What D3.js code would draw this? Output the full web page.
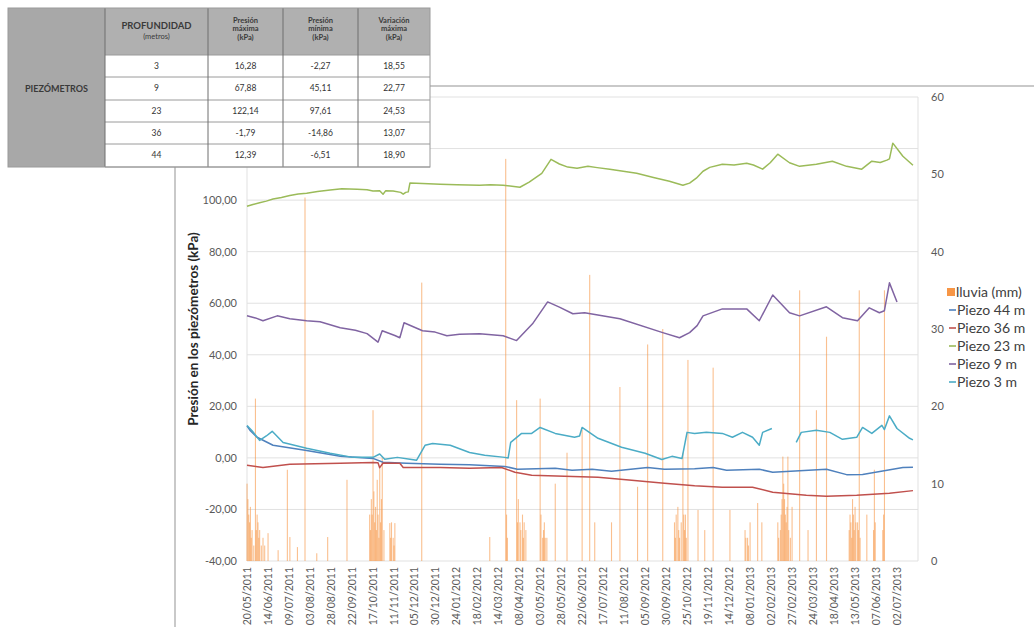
<!DOCTYPE html>
<html>
<head>
<meta charset="utf-8">
<script src="https://cdn.jsdelivr.net/npm/d3@7"></script>
<style>
  body { margin: 0; background: #fff; }
  svg { display: block; font-family: Lato, "Open Sans", "DejaVu Sans", sans-serif; }
</style>
</head>
<body>
<svg id="chart" width="1034" height="627"></svg>
<script>
// ---------- data ----------
const axisDates = ["20/05/2011","14/06/2011","09/07/2011","03/08/2011","28/08/2011","22/09/2011","17/10/2011","11/11/2011","05/12/2011","30/12/2011","24/01/2012","18/02/2012","14/03/2012","08/04/2012","03/05/2012","28/05/2012","22/06/2012","17/07/2012","11/08/2012","05/09/2012","30/09/2012","25/10/2012","19/11/2012","14/12/2012","08/01/2013","02/02/2013","27/02/2013","24/03/2013","18/04/2013","13/05/2013","07/06/2013","02/07/2013"];
const pressureTicks = [-40, -20, 0, 20, 40, 60, 80, 100];
const pressureGrid = [-40, -20, 0, 20, 40, 60, 80, 100, 120, 140];
const rainTicks = [0, 10, 20, 30, 40, 50, 60];

// daily rainfall (mm)
const lluvia = [
  ["2011-05-20",10],["2011-05-21",8],["2011-05-22",6],["2011-05-23",5],["2011-05-24",7],["2011-05-25",3],["2011-05-26",4],
  ["2011-05-28",2],["2011-05-30",21],["2011-05-31",4],["2011-06-01",6],["2011-06-02",5],["2011-06-03",3],["2011-06-04",4],
  ["2011-06-06",2],["2011-06-08",3],["2011-06-10",2],["2011-06-14",3.6],["2011-06-26",1.4],["2011-07-07",11.8],["2011-07-10",3.1],
  ["2011-07-19",1.8],["2011-07-28",47],["2011-08-11",1],["2011-08-24",3.1],["2011-09-16",10.5],["2011-10-13",6],["2011-10-14",4],
  ["2011-10-15",8],["2011-10-16",6],["2011-10-17",19.5],["2011-10-18",9],["2011-10-19",5],["2011-10-20",7],["2011-10-21",4],
  ["2011-10-22",10.5],["2011-10-23",6],["2011-10-24",3],["2011-10-25",12],["2011-10-26",5],["2011-10-27",8],["2011-10-28",13.4],
  ["2011-10-30",4],["2011-11-06",4.9],["2011-11-07",3],["2011-11-08",5],["2011-11-10",3],["2011-11-11",2],["2011-11-12",4.9],
  ["2011-12-14",36],["2012-03-04",3.1],["2012-03-23",52],["2012-03-24",6],["2012-03-25",3],["2012-04-05",20.8],["2012-04-06",5],
  ["2012-04-07",8],["2012-04-09",5],["2012-04-10",4],["2012-04-12",6],["2012-04-13",3],["2012-04-14",5],["2012-04-16",4],
  ["2012-05-03",21],["2012-05-04",6],["2012-05-06",3],["2012-05-07",4],["2012-05-08",5],["2012-05-09",3],["2012-05-11",3],
  ["2012-05-21",10],["2012-06-04",14],["2012-06-22",17],["2012-07-01",37],["2012-07-07",5],["2012-07-27",5],
  ["2012-08-06",22.5],["2012-08-27",9.6],["2012-09-08",28],["2012-09-26",30],["2012-10-10",5],["2012-10-11",3],["2012-10-12",6],
  ["2012-10-14",7],["2012-10-15",4],["2012-10-16",3],["2012-10-18",5],["2012-10-20",14],["2012-10-21",6],["2012-10-22",4],
  ["2012-10-23",6],["2012-10-24",3],["2012-10-26",26],["2012-11-07",6.6],["2012-11-15",4],["2012-11-25",25],
  ["2012-12-15",6.6],["2013-01-02",4],["2013-01-03",3],["2013-01-05",3],["2013-01-06",2],["2013-01-08",5],["2013-01-17",7.5],
  ["2013-01-22",5],["2013-02-10",5],["2013-02-11",3],["2013-02-13",4],["2013-02-14",6],["2013-02-15",8],["2013-02-16",13.5],
  ["2013-02-17",10],["2013-02-18",8],["2013-02-19",6],["2013-02-20",5],["2013-02-21",7],["2013-02-22",13.5],["2013-02-23",4],
  ["2013-02-25",3],["2013-02-27",7],["2013-03-08",35],["2013-03-18",4],["2013-03-28",19.5],["2013-04-09",29],
  ["2013-05-06",4],["2013-05-07",6],["2013-05-08",5],["2013-05-09",3],["2013-05-10",8],["2013-05-11",6],["2013-05-12",4],
  ["2013-05-13",7],["2013-05-14",5],["2013-05-16",5],["2013-05-17",4],["2013-05-18",35],["2013-05-19",3],["2013-05-27",6],
  ["2013-06-04",4],["2013-06-05",11.8],["2013-06-06",5],["2013-06-15",4],["2013-06-16",6],["2013-06-17",35]
];

// piezometer pressures (kPa)
const piezo44 = [
  ["2011-05-20",12.4],["2011-05-24",10.5],["2011-06-01",8.0],["2011-06-20",4.9],["2011-07-30",2.9],["2011-09-08",0.6],
  ["2011-10-17",-0.2],["2011-10-29",-1.7],["2011-11-26",-2.1],["2012-01-05",-2.5],["2012-02-09",-2.7],["2012-03-22",-3.3],
  ["2012-04-06",-4.4],["2012-05-21",-4.0],["2012-06-10",-4.8],["2012-07-04",-4.4],["2012-07-27",-5.2],["2012-09-08",-3.7],
  ["2012-09-28",-4.4],["2012-11-03",-4.2],["2012-11-25",-3.7],["2012-12-11",-4.8],["2013-01-19",-4.4],["2013-02-04",-5.6],
  ["2013-04-09",-4.4],["2013-05-03",-6.5],["2013-05-22",-6.4],["2013-07-09",-3.7],["2013-07-21",-3.6]
];
const piezo36 = [
  ["2011-05-20",-2.9],["2011-06-08",-3.7],["2011-07-10",-2.5],["2011-09-08",-2.1],["2011-10-17",-1.8],["2011-10-23",-1.9],
  ["2011-10-25",-3.8],["2011-10-29",-2.0],["2011-11-18",-2.1],["2011-11-22",-3.7],["2012-01-05",-3.7],["2012-02-09",-4.0],
  ["2012-03-18",-3.7],["2012-04-03",-5.6],["2012-04-23",-6.7],["2012-06-01",-7.1],["2012-07-11",-7.5],["2012-08-20",-8.7],
  ["2012-09-28",-9.8],["2012-11-03",-10.8],["2012-12-06",-11.4],["2013-01-11",-11.4],["2013-02-04",-13.3],["2013-03-16",-14.5],
  ["2013-04-09",-14.9],["2013-05-15",-14.5],["2013-06-23",-13.7],["2013-07-21",-12.7]
];
const piezo23 = [
  ["2011-05-20",97.6],["2011-05-27",98.3],["2011-06-04",99.0],["2011-06-12",99.6],["2011-06-20",100.4],["2011-06-30",101.0],
  ["2011-07-10",101.8],["2011-07-20",102.4],["2011-07-30",102.7],["2011-08-12",103.3],["2011-08-27",103.9],["2011-09-10",104.4],
  ["2011-09-28",104.2],["2011-10-10",104.0],["2011-10-17",103.5],["2011-10-25",103.6],["2011-10-29",102.3],["2011-11-01",103.6],
  ["2011-11-10",103.5],["2011-11-19",103.0],["2011-11-22",102.3],["2011-11-25",103.0],["2011-11-28",103.2],["2011-11-30",106.6],
  ["2011-12-15",106.4],["2012-01-05",106.2],["2012-01-25",106.0],["2012-02-21",105.8],["2012-03-05",106.0],["2012-03-20",105.8],
  ["2012-04-09",105.0],["2012-04-20",107.0],["2012-05-05",110.4],["2012-05-16",115.8],["2012-05-26",114.0],["2012-06-05",112.8],
  ["2012-06-16",112.4],["2012-06-29",113.1],["2012-07-10",112.6],["2012-07-25",112.0],["2012-08-26",110.4],["2012-09-15",108.8],
  ["2012-10-04",107.3],["2012-10-20",105.8],["2012-10-28",106.6],["2012-11-05",108.5],["2012-11-13",111.2],["2012-11-21",112.7],
  ["2012-12-06",113.9],["2012-12-20",113.6],["2013-01-04",114.3],["2013-01-12",113.6],["2013-01-23",112.0],["2013-02-01",114.5],
  ["2013-02-10",117.8],["2013-02-24",114.5],["2013-03-08",113.1],["2013-03-28",113.9],["2013-04-16",115.1],["2013-05-03",113.1],
  ["2013-05-21",112.0],["2013-06-02",115.1],["2013-06-12",114.6],["2013-06-20",115.5],["2013-06-23",116.0],["2013-06-27",122.1],
  ["2013-07-09",117.0],["2013-07-21",113.5]
];
const piezo9 = [
  ["2011-05-20",55.1],["2011-05-30",54.3],["2011-06-08",53.2],["2011-06-25",55.1],["2011-07-10",54.0],["2011-07-30",53.2],
  ["2011-08-15",52.8],["2011-09-08",50.5],["2011-09-26",49.5],["2011-10-10",48.2],["2011-10-23",44.9],["2011-10-28",49.3],
  ["2011-11-12",47.5],["2011-11-18",46.6],["2011-11-23",52.4],["2011-12-15",49.3],["2011-12-30",48.8],["2012-01-13",47.4],
  ["2012-01-28",48.0],["2012-02-21",48.2],["2012-03-20",47.4],["2012-04-05",45.5],["2012-04-24",52.0],["2012-05-12",60.5],
  ["2012-05-26",58.5],["2012-06-11",55.9],["2012-06-25",56.3],["2012-08-06",54.0],["2012-09-26",48.6],["2012-10-16",46.6],
  ["2012-10-28",48.6],["2012-11-06",51.3],["2012-11-13",55.1],["2012-12-06",57.8],["2013-01-04",57.8],["2013-01-19",53.2],
  ["2013-02-04",63.2],["2013-02-24",56.3],["2013-03-08",55.1],["2013-04-09",58.6],["2013-04-28",54.4],["2013-05-16",53.2],
  ["2013-05-30",58.2],["2013-06-11",56.3],["2013-06-17",57.1],["2013-06-23",67.9],["2013-07-02",60.5]
];
const piezo3 = [
  ["2011-05-20",12.6],["2011-05-26",10.5],["2011-06-04",6.8],["2011-06-12",8.5],["2011-06-19",10.3],["2011-07-02",6.0],
  ["2011-07-30",3.7],["2011-08-27",1.8],["2011-09-23",0.2],["2011-10-17",0.2],["2011-10-25",1.5],["2011-10-31",-0.5],
  ["2011-11-15",0.2],["2011-11-30",-0.5],["2011-12-08",-0.9],["2011-12-18",4.9],["2011-12-27",5.6],["2012-01-17",4.9],
  ["2012-02-09",2.1],["2012-02-27",1.0],["2012-03-22",0.2],["2012-03-26",0.0],["2012-03-29",6.0],["2012-04-11",9.5],
  ["2012-04-23",9.5],["2012-05-03",11.8],["2012-05-21",9.5],["2012-06-13",8.0],["2012-06-19",8.5],["2012-06-22",11.8],
  ["2012-07-11",7.6],["2012-08-08",4.1],["2012-09-05",1.8],["2012-09-25",-0.6],["2012-10-07",0.6],["2012-10-19",-0.2],
  ["2012-10-25",9.9],["2012-11-03",9.5],["2012-11-17",9.9],["2012-12-06",9.5],["2012-12-18",8.0],["2012-12-30",9.9],
  ["2013-01-11",8.0],["2013-01-19",4.9],["2013-01-23",9.9],["2013-02-03",11.4],["2013-02-15",null],["2013-03-04",6.0],
  ["2013-03-10",9.9],["2013-03-28",10.7],["2013-04-13",9.9],["2013-04-28",7.2],["2013-05-15",8.0],["2013-05-22",11.8],
  ["2013-06-02",9.5],["2013-06-14",12.6],["2013-06-17",11.0],["2013-06-23",16.3],["2013-07-02",11.4],["2013-07-17",7.6],
  ["2013-07-21",7.0]
];

const seriesNames = ["Piezo 44 m", "Piezo 36 m", "Piezo 23 m", "Piezo 9 m", "Piezo 3 m"];
const seriesColors = ["#4F81BD", "#C0504D", "#9BBB59", "#8064A2", "#4BACC6"];
const rainName = "lluvia (mm)";
const rainColor = "#F79646";

// summary table
const tablaHead = [["PROFUNDIDAD", "(metros)"], ["Presión", "máxima", "(kPa)"], ["Presión", "mínima", "(kPa)"], ["Variación", "máxima", "(kPa)"]];
const tablaProf = ["3", "9", "23", "36", "44"];
const tablaMax = ["16,28", "67,88", "122,14", "-1,79", "12,39"];
const tablaMin = ["-2,27", "45,11", "97,61", "-14,86", "-6,51"];
const tablaVar = ["18,55", "22,77", "24,53", "13,07", "18,90"];

// ---------- drawing ----------
const svg = d3.select("#chart");
const parseISO = d3.timeParse("%Y-%m-%d");
const parseDMY = d3.timeParse("%d/%m/%Y");
const fmtDMY = d3.timeFormat("%d/%m/%Y");

const plot = { left: 247, right: 918, top: 97, bottom: 561 };
const x = d3.scaleTime().domain([parseISO("2011-05-20"), parseISO("2013-07-27")]).range([plot.left, plot.right]);
const yL = d3.scaleLinear().domain([-40, 140]).range([plot.bottom, plot.top]);
const yR = d3.scaleLinear().domain([0, 60]).range([plot.bottom, plot.top]);

// chart area border
svg.append("path").attr("d", `M175,627 V86 H1034`).attr("fill", "none").attr("stroke", "#c9c9c9").attr("stroke-width", 2);

// horizontal gridlines
svg.append("g").selectAll("line").data(pressureGrid).join("line")
  .attr("x1", plot.left).attr("x2", plot.right)
  .attr("y1", d => yL(d)).attr("y2", d => yL(d))
  .attr("stroke", "#e1e1e1").attr("stroke-width", 1);
svg.append("line").attr("x1", plot.left).attr("x2", plot.left).attr("y1", plot.top).attr("y2", plot.bottom).attr("stroke", "#e1e1e1");
svg.append("line").attr("x1", plot.right).attr("x2", plot.right).attr("y1", plot.top).attr("y2", plot.bottom).attr("stroke", "#e1e1e1");

// rainfall bars
svg.append("g").selectAll("rect").data(lluvia).join("rect")
  .attr("x", d => x(parseISO(d[0])) - 0.5)
  .attr("width", 1.1)
  .attr("y", d => yR(d[1]))
  .attr("height", d => plot.bottom - yR(d[1]))
  .attr("fill", rainColor).attr("opacity", 0.6);

// piezometer lines
const allSeries = [piezo44, piezo36, piezo23, piezo9, piezo3];
const line = d3.line()
  .defined(d => d[1] !== null)
  .x(d => x(parseISO(d[0])))
  .y(d => yL(d[1]))
  .curve(d3.curveLinear);
allSeries.forEach((s, i) => {
  svg.append("path").datum(s).attr("d", line)
    .attr("fill", "none").attr("stroke", seriesColors[i])
    .attr("stroke-width", 1.5).attr("stroke-linejoin", "round");
});

// axes
const fmtKPa = d => (d < 0 ? "-" : "") + Math.abs(d).toFixed(2).replace(".", ",");
const axL = svg.append("g").attr("transform", `translate(${plot.left},0)`)
  .call(d3.axisLeft(yL).tickValues(pressureTicks).tickFormat(fmtKPa).tickSize(0).tickPadding(10));
const axR = svg.append("g").attr("transform", `translate(${plot.right},0)`)
  .call(d3.axisRight(yR).tickValues(rainTicks).tickFormat(d3.format("d")).tickSize(0).tickPadding(13));
const axB = svg.append("g").attr("transform", `translate(0,${plot.bottom})`)
  .call(d3.axisBottom(x).tickValues(axisDates.map(parseDMY)).tickFormat(fmtDMY).tickSize(0));
[axL, axR, axB].forEach(a => {
  a.select(".domain").remove();
  a.selectAll("text").attr("fill", "#595959").style("font-size", "11px").style("font-family", "Lato, sans-serif");
});
axB.selectAll("text")
  .attr("transform", "rotate(-90)")
  .attr("text-anchor", "end")
  .attr("x", -6).attr("y", 0).attr("dy", "0.35em")
  .style("font-size", "10.5px");

// y axis title
svg.append("text")
  .attr("transform", `translate(193,${(220 + 438) / 2}) rotate(-90)`)
  .attr("text-anchor", "middle").attr("dy", "0.35em")
  .attr("fill", "#262626").style("font-size", "13.5px").style("font-weight", "bold")
  .text("Presión en los piezómetros (kPa)");

// legend
const lg = svg.append("g").attr("transform", "translate(947,292)");
lg.append("rect").attr("x", 0).attr("y", -4).attr("width", 8).attr("height", 8).attr("fill", rainColor);
lg.append("text").attr("x", 9).attr("y", 0).attr("dy", "0.35em").attr("fill", "#404040").style("font-size", "14px").text(rainName);
seriesNames.forEach((n, i) => {
  const gy = 18 * (i + 1);
  lg.append("line").attr("x1", 2).attr("x2", 9).attr("y1", gy).attr("y2", gy).attr("stroke", seriesColors[i]).attr("stroke-width", 1.6);
  lg.append("text").attr("x", 10).attr("y", gy).attr("dy", "0.35em").attr("fill", "#404040").style("font-size", "14px").text(n);
});

// summary table
const colX = [8, 105, 208, 283, 358, 430];
const rowY = [8, 55, 77, 100, 122, 144, 167];
const tb = svg.append("g");
tb.append("rect").attr("x", colX[0]).attr("y", rowY[0]).attr("width", colX[5] - colX[0]).attr("height", rowY[6] - rowY[0]).attr("fill", "#fff");
tb.append("rect").attr("x", colX[0]).attr("y", rowY[0]).attr("width", colX[1] - colX[0]).attr("height", rowY[6] - rowY[0]).attr("fill", "#a8a8a8");
tb.append("rect").attr("x", colX[1]).attr("y", rowY[0]).attr("width", colX[5] - colX[1]).attr("height", rowY[1] - rowY[0]).attr("fill", "#b0b0b0");
for (let r = 1; r < rowY.length; r++) {
  tb.append("line").attr("x1", colX[1]).attr("x2", colX[5]).attr("y1", rowY[r]).attr("y2", rowY[r]).attr("stroke", "#9a9a9a").attr("stroke-width", 1);
}
for (let c = 1; c < colX.length - 1; c++) {
  tb.append("line").attr("x1", colX[c]).attr("x2", colX[c]).attr("y1", rowY[0]).attr("y2", rowY[6]).attr("stroke", "#6f6f6f").attr("stroke-width", 1);
}
tb.append("rect").attr("x", colX[0]).attr("y", rowY[0]).attr("width", colX[5] - colX[0]).attr("height", rowY[6] - rowY[0]).attr("fill", "none").attr("stroke", "#9a9a9a");

tb.append("text").attr("x", (colX[0] + colX[1]) / 2).attr("y", 89).attr("dy", "0.35em").attr("text-anchor", "middle")
  .attr("fill", "#3a3a3a").style("font-size", "9px").style("font-weight", "bold").text("PIEZÓMETROS");
// header cells
tb.append("text").attr("x", (colX[1] + colX[2]) / 2).attr("y", 26).attr("dy", "0.35em").attr("text-anchor", "middle")
  .attr("fill", "#3a3a3a").style("font-size", "9.5px").style("font-weight", "bold").text(tablaHead[0][0]);
tb.append("text").attr("x", (colX[1] + colX[2]) / 2).attr("y", 36).attr("dy", "0.35em").attr("text-anchor", "middle")
  .attr("fill", "#3a3a3a").style("font-size", "7.5px").text(tablaHead[0][1]);
for (let c = 1; c < 4; c++) {
  tablaHead[c].forEach((t, k) => {
    tb.append("text").attr("x", (colX[c + 1] + colX[c + 2]) / 2).attr("y", 20 + k * 8.5).attr("dy", "0.35em").attr("text-anchor", "middle")
      .attr("fill", "#3a3a3a").style("font-size", "7.5px").style("font-weight", "bold").text(t);
  });
}
// body cells
const tablaCols = [tablaProf, tablaMax, tablaMin, tablaVar];
tablaCols.forEach((col, c) => {
  col.forEach((v, r) => {
    tb.append("text").attr("x", (colX[c + 1] + colX[c + 2]) / 2).attr("y", (rowY[r + 1] + rowY[r + 2]) / 2)
      .attr("dy", "0.35em").attr("text-anchor", "middle")
      .attr("fill", "#333").style("font-size", "8.5px").text(v);
  });
});
</script>
</body>
</html>
